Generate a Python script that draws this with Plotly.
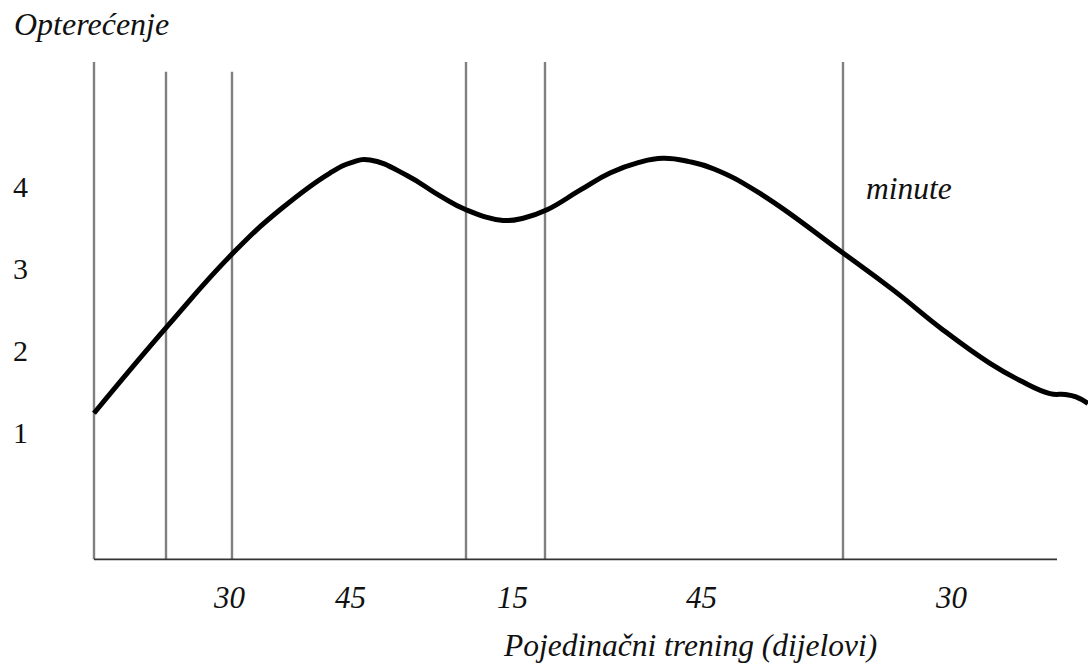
import plotly.graph_objects as go

# ---- data ----
curve_x = [0, 7.3, 13.9, 18.6, 23.6, 25.8, 27.6, 31.3, 34.6, 37.2, 40.9, 43.0, 45.3, 48.6,
           51.6, 54.5, 56.9, 59.5, 62.0, 66.6, 74.8, 79.9, 84.9, 89.6, 92.6, 95.6, 97.1, 98.2, 99.4]
curve_y = [1.23, 2.29, 3.19, 3.72, 4.17, 4.30, 4.33, 4.14, 3.89, 3.72, 3.59, 3.62, 3.72, 3.96,
           4.17, 4.30, 4.35, 4.31, 4.22, 3.92, 3.20, 2.74, 2.25, 1.84, 1.63, 1.47, 1.46, 1.43, 1.35]

divider_x = [0, 7.2, 13.8, 37.2, 45.1, 74.9]
divider_top = [5.53, 5.41, 5.41, 5.53, 5.53, 5.53]

y_levels = [1, 2, 3, 4]
part_minutes = ["30", "45", "15", "45", "30"]
part_label_x = [13.5, 25.6, 41.8, 60.7, 85.7]

y_title = "Opterećenje"
x_title = "Pojedinačni trening (dijelovi)"
unit_label = "minute"

# ---- layout constants ----
BASE_Y = -0.558
AXIS_END = 96.3
FONT = "Liberation Serif"
TXT = "#111111"

fig = go.Figure()

for xv, top in zip(divider_x, divider_top):
    fig.add_trace(go.Scatter(x=[xv, xv], y=[BASE_Y, top], mode="lines",
                             line=dict(color="#808080", width=2.4),
                             hoverinfo="skip", showlegend=False))

fig.add_trace(go.Scatter(x=[0, AXIS_END], y=[BASE_Y, BASE_Y], mode="lines",
                         line=dict(color="#333333", width=1.8),
                         hoverinfo="skip", showlegend=False))

fig.add_trace(go.Scatter(x=curve_x, y=curve_y, mode="lines",
                         line=dict(color="#000000", width=5, shape="spline", smoothing=1.3),
                         hoverinfo="skip", showlegend=False))

# y level labels
for v in y_levels:
    fig.add_annotation(x=-7.4, y=v, text=str(v), showarrow=False,
                       xanchor="center", yanchor="middle",
                       font=dict(family=FONT, size=30, color=TXT))

# part duration labels
for lbl, xv in zip(part_minutes, part_label_x):
    fig.add_annotation(x=xv, y=-1.02, text=f"<i>{lbl}</i>", showarrow=False,
                       xanchor="center", yanchor="middle",
                       font=dict(family=FONT, size=31, color=TXT))

fig.add_annotation(x=59.6, y=-1.61, text=f"<i>{x_title}</i>", showarrow=False,
                   xanchor="center", yanchor="middle",
                   font=dict(family=FONT, size=31.5, color=TXT))

fig.add_annotation(x=-8.2, y=5.99, text=f"<i>{y_title}</i>", showarrow=False,
                   xanchor="left", yanchor="middle",
                   font=dict(family=FONT, size=32, color=TXT))

fig.add_annotation(x=81.5, y=3.98, text=f"<i>{unit_label}</i>", showarrow=False,
                   xanchor="center", yanchor="middle",
                   font=dict(family=FONT, size=31.5, color=TXT))

fig.update_layout(
    width=1088, height=670,
    margin=dict(l=0, r=0, t=0, b=0),
    paper_bgcolor="white", plot_bgcolor="white",
    xaxis=dict(range=[-9.4, 99.4], visible=False, fixedrange=True),
    yaxis=dict(range=[-1.913, 6.288], visible=False, fixedrange=True),
)

fig.write_html("out.html", config={"displayModeBar": False},
               post_script="document.body.style.margin='0';document.body.style.overflow='hidden';")
